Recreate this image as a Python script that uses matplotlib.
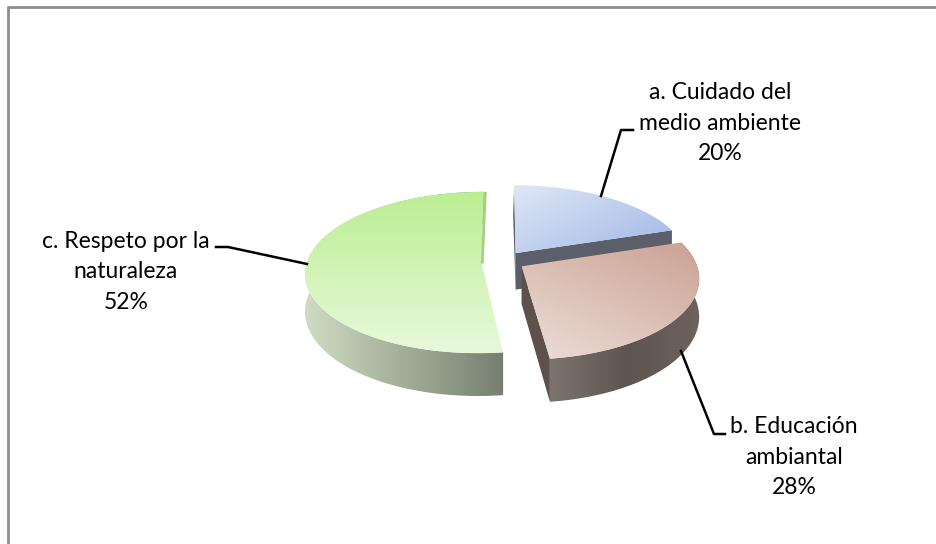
import matplotlib
matplotlib.use('Agg')
import matplotlib.pyplot as plt
import numpy as np
from matplotlib.colors import LinearSegmentedColormap
from matplotlib.patches import Polygon

# pie values and labels
labels = ['a. Cuidado del\nmedio ambiente', 'b. Educación\nambiantal', 'c. Respeto por la\nnaturaleza']
shares = [20, 28, 52]

plt.rcParams['font.family'] = ['Lato', 'DejaVu Sans']

W, H = 937, 544
fig = plt.figure(figsize=(W / 100, H / 100), dpi=100)
ax = fig.add_axes([0, 0, 1, 1])
ax.set_xlim(0, W)
ax.set_ylim(H, 0)
ax.axis('off')

# projection of the tilted pie onto the page
cx, cy, rx, ry = 503, 261, 174, 79
persp = 0.135
explode = 0.125
depth = 37


def project(X, Z, drop=False):
    w = 1 - persp * Z
    y = cy + ry * Z / w
    if drop:
        y = y + depth / w
    return cx + rx * X / w, y


def gradient_fill(pts, colors, angle, zorder):
    # linear gradient clipped to a polygon
    pts = np.array(pts)
    x0, y0 = pts.min(axis=0)
    x1, y1 = pts.max(axis=0)
    gx, gy = np.meshgrid(np.linspace(0, 1, 200), np.linspace(0, 1, 200))
    a = np.radians(angle)
    g = gx * np.cos(a) + gy * np.sin(a)
    g = (g - g.min()) / (g.max() - g.min())
    cmap = LinearSegmentedColormap.from_list('g', colors)
    im = ax.imshow(g, extent=[x0, x1, y1, y0], cmap=cmap, aspect='auto', zorder=zorder, interpolation='bilinear')
    patch = Polygon(pts, closed=True, transform=ax.transData, fill=False, edgecolor='none')
    ax.add_patch(patch)
    im.set_clip_path(patch)


def slice_geom(start, stop):
    th = np.radians(np.linspace(start, stop, 160))
    mid = np.radians((start + stop) / 2)
    ox, oz = explode * np.sin(mid), -explode * np.cos(mid)
    X, Z = ox + np.sin(th), oz - np.cos(th)
    return ox, oz, X, Z


angles = np.cumsum([0] + shares) * 3.6

# green slice first, it sits behind the others
ox, oz, X, Z = slice_geom(angles[2], angles[3])
xt, yt = project(X, Z)
xb, yb = project(X, Z, True)
side = np.r_[np.c_[xt, yt], np.c_[xb, yb][::-1]]
gradient_fill(side, ['#cfdcc2', '#767f70'], 0, 2)
ax0, ay0 = project(ox, oz)
top = np.r_[[[ax0, ay0]], np.c_[xt, yt]]
gradient_fill(top, ['#bbee92', '#e8f9dc'], 90, 3)
ax.plot([ax0 + 1, xt[-1] + 1.5], [ay0 + 2, yt[-1]], color='#a5d084', lw=2, zorder=3, solid_capstyle='butt')

# blue slice
ox, oz, X, Z = slice_geom(angles[0], angles[1])
xt, yt = project(X, Z)
xb, yb = project(X, Z, True)
ax0, ay0 = project(ox, oz)
ax1, ay1 = project(ox, oz, True)
ax.add_patch(Polygon([[ax0, ay0], [xt[-1], yt[-1]], [xb[-1], yb[-1]], [ax1, ay1]], color='#5a5f69', zorder=4, lw=0))
ax.add_patch(Polygon([[ax0, ay0], [xt[0], yt[0]], [xt[0] - 1, yt[0] + 30], [ax1, ay1]], color='#5a5f69', zorder=4, lw=0))
top = np.r_[[[ax0, ay0]], np.c_[xt, yt]]
gradient_fill(top, ['#dfe7f5', '#a0b7e7'], 40, 5)

# red slice
ox, oz, X, Z = slice_geom(angles[1], angles[2])
xt, yt = project(X, Z)
xb, yb = project(X, Z, True)
ax0, ay0 = project(ox, oz)
ax1, ay1 = project(ox, oz, True)
ax.add_patch(Polygon([[ax0, ay0], [xt[-1], yt[-1]], [xb[-1], yb[-1]], [ax1, ay1]], color='#5e504b', zorder=6, lw=0))
side = np.r_[np.c_[xt, yt], np.c_[xb, yb][::-1]]
gradient_fill(side, ['#6e625d', '#5e5450', '#7e746f'], 180, 6)
top = np.r_[[[ax0, ay0]], np.c_[xt, yt]]
gradient_fill(top, ['#cca193', '#ebded8'], 125, 7)

# leader lines
ax.plot([601, 621, 633], [196, 130, 130], color='black', lw=1.8, zorder=8)
ax.plot([681, 714, 725], [351, 434, 434], color='black', lw=1.8, zorder=8)
ax.plot([307, 228, 216], [264, 247, 247], color='black', lw=1.8, zorder=8)

# labels
text_kw = dict(ha='center', va='center', fontsize=16.5, color='black', linespacing=1.54, zorder=9)
ax.text(720, 123, f'{labels[0]}\n{shares[0]}%', **text_kw)
ax.text(794, 457, f'{labels[1]}\n{shares[1]}%', **text_kw)
ax.text(126, 272, f'{labels[2]}\n{shares[2]}%', **text_kw)

# chart frame, only top and left are on the crop
ax.plot([8.5, W], [7.3, 7.3], color='#8e8e8e', lw=2, solid_capstyle='butt')
ax.plot([8.5, 8.5], [6.3, H], color='#8e8e8e', lw=2, solid_capstyle='butt')

ax.set_xlim(0, W)
ax.set_ylim(H, 0)
fig.savefig('out.png', dpi=100)
